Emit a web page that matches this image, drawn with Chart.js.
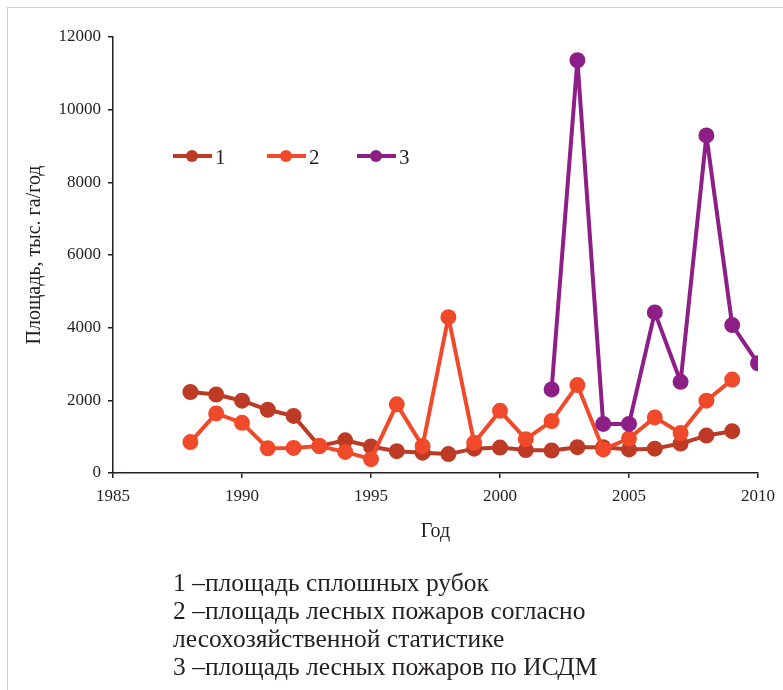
<!DOCTYPE html>
<html>
<head>
<meta charset="utf-8">
<script src="https://cdn.jsdelivr.net/npm/chart.js@4.4.0/dist/chart.umd.min.js"></script>
<style>
body { margin: 0; background: #fff; }
#wrap { position: relative; width: 783px; height: 690px; overflow: hidden; font-family: "Liberation Serif", serif; }
#frame { position: absolute; left: 7px; top: 7px; width: 820px; height: 720px; border: 1px solid #cfcfcf; }
#c { position: absolute; left: 0; top: 0; }
#caption { position: absolute; left: 173px; top: 569px; font-size: 25.5px; line-height: 28px; color: #231f20; white-space: nowrap; }
</style>
</head>
<body>
<div id="wrap">
  <div id="frame"></div>
  <canvas id="c" width="783" height="690"></canvas>
  <div id="caption">
    1 –площадь сплошных рубок<br>
    2 –площадь лесных пожаров согласно<br>
    лесохозяйственной статистике<br>
    3 –площадь лесных пожаров по ИСДМ
  </div>
</div>
<script>
// years
const years1 = [1988, 1989, 1990, 1991, 1992, 1993, 1994, 1995, 1996, 1997, 1998,
                1999, 2000, 2001, 2002, 2003, 2004, 2005, 2006, 2007, 2008, 2009];
const years3 = [2002, 2003, 2004, 2005, 2006, 2007, 2008, 2009, 2010];

// 1 - clear-cut area
const clearCuts = [2230, 2160, 1990, 1740, 1570, 740, 900, 730, 600, 560, 520,
                   670, 700, 630, 620, 710, 710, 650, 670, 810, 1030, 1150];
// 2 - fires, forestry statistics
const firesStat = [850, 1640, 1380, 680, 690, 740, 580, 380, 1890, 740, 4290,
                   830, 1710, 930, 1430, 2420, 650, 950, 1530, 1100, 1990, 2570];
// 3 - fires, ISDM
const firesIsdm = [2300, 11360, 1350, 1350, 4420, 2510, 9290, 4070, 3020];

const yTicks = [0, 2000, 4000, 6000, 8000, 10000, 12000];
const seriesNames = ['1', '2', '3'];
const colors = ['#bd3a25', '#f04a2b', '#8e1f87'];

function pts(xs, ys) {
  return xs.map((x, i) => ({ x: x, y: ys[i] }));
}

function ds(label, data, color, order) {
  return {
    label: label,
    data: data,
    borderColor: color,
    backgroundColor: color,
    pointBackgroundColor: color,
    pointBorderColor: color,
    borderWidth: 4,
    borderJoinStyle: 'round',
    pointRadius: 6,
    pointHoverRadius: 6,
    tension: 0,
    order: order
  };
}

// legend drawn inside the plot area
const innerLegend = {
  id: 'innerLegend',
  afterDraw(chart) {
    const ctx = chart.ctx;
    const y = 156;
    const starts = [173, 267, 357];
    ctx.save();
    starts.forEach((x0, i) => {
      ctx.strokeStyle = colors[i];
      ctx.fillStyle = colors[i];
      ctx.lineWidth = 4;
      ctx.beginPath();
      ctx.moveTo(x0, y);
      ctx.lineTo(x0 + 39, y);
      ctx.stroke();
      ctx.beginPath();
      ctx.arc(x0 + 19, y, 6, 0, Math.PI * 2);
      ctx.fill();
      ctx.fillStyle = '#231f20';
      ctx.font = '21px "Liberation Serif"';
      ctx.textBaseline = 'middle';
      ctx.fillText(seriesNames[i], x0 + 42, y + 2);
    });
    ctx.restore();
  }
};

const axisColor = '#231f20';

new Chart(document.getElementById('c'), {
  type: 'line',
  data: {
    datasets: [
      ds(seriesNames[0], pts(years1, clearCuts), colors[0], 3),
      ds(seriesNames[1], pts(years1, firesStat), colors[1], 2),
      ds(seriesNames[2], pts(years3, firesIsdm), colors[2], 1)
    ]
  },
  options: {
    responsive: false,
    animation: false,
    layout: { padding: { top: 37, right: 23, left: 0, bottom: 137 } },
    plugins: { legend: { display: false }, tooltip: { enabled: false } },
    scales: {
      x: {
        type: 'linear',
        min: 1985,
        max: 2010,
        afterFit(scale) { scale.height = 80; },
        ticks: {
          stepSize: 5,
          color: axisColor,
          padding: 8,
          font: { family: 'Liberation Serif', size: 17 },
          callback: v => String(v)
        },
        grid: { drawOnChartArea: false, drawTicks: true, tickLength: 5, color: axisColor, lineWidth: 1.5 },
        border: { display: true, color: axisColor, width: 1.5 },
        title: {
          display: true,
          text: 'Год',
          color: axisColor,
          font: { family: 'Liberation Serif', size: 20 },
          padding: { top: 4, bottom: 9 }
        }
      },
      y: {
        min: 0,
        max: 12000,
        afterFit(scale) { scale.width = 113; },
        afterBuildTicks(scale) { scale.ticks = yTicks.map(v => ({ value: v })); },
        ticks: {
          color: axisColor,
          padding: 7,
          font: { family: 'Liberation Serif', size: 17 },
          callback: v => String(v)
        },
        grid: { drawOnChartArea: false, drawTicks: true, tickLength: 5, color: axisColor, lineWidth: 1.5 },
        border: { display: true, color: axisColor, width: 1.5 },
        title: {
          display: true,
          text: 'Площадь, тыс. га/год',
          color: axisColor,
          font: { family: 'Liberation Serif', size: 20 },
          padding: { top: 23, bottom: 0 }
        }
      }
    }
  },
  plugins: [innerLegend]
});
</script>
</body>
</html>
